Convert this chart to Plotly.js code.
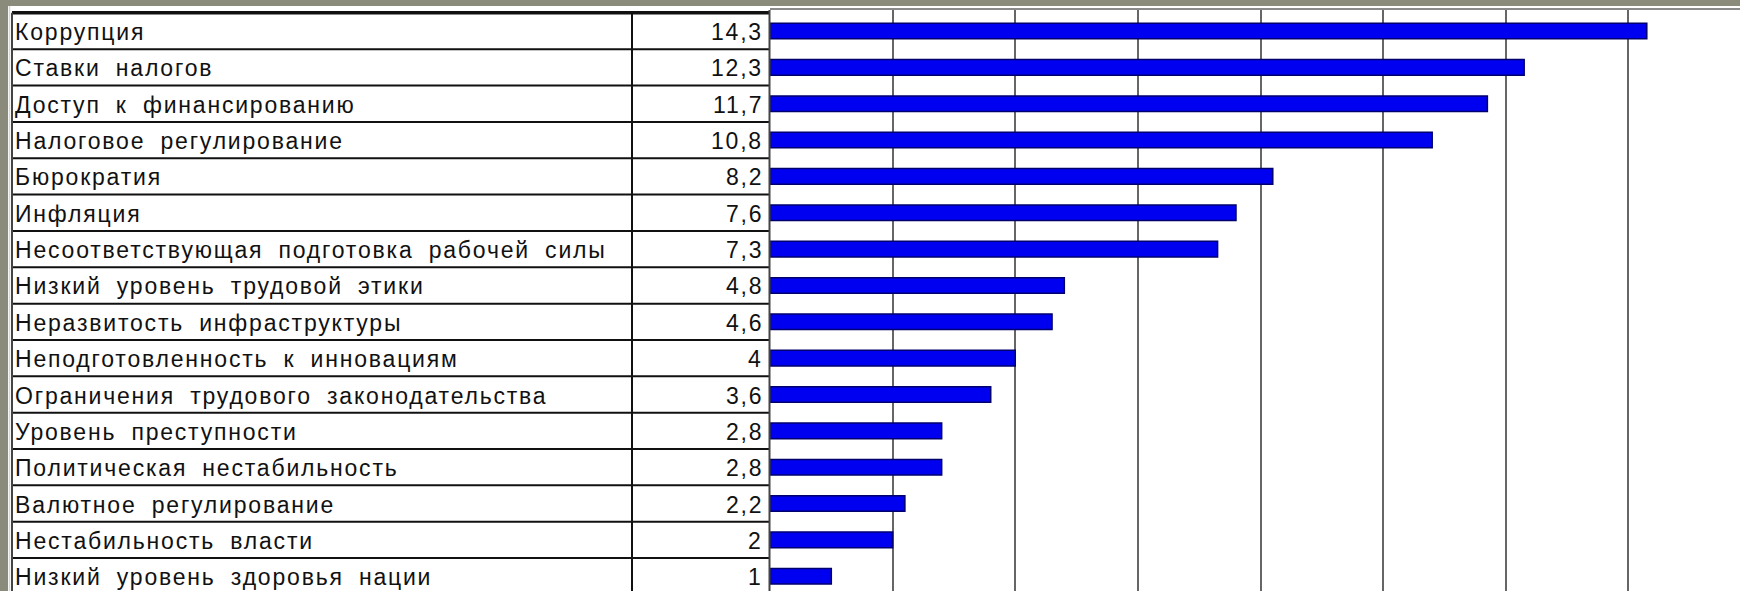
<!DOCTYPE html>
<html>
<head>
<meta charset="utf-8">
<script src="https://cdn.plot.ly/plotly-3.0.1.min.js"></script>
<style>
html,body{margin:0;padding:0;background:#ffffff;overflow:hidden;}
#chart{width:1740px;height:591px;}
</style>
</head>
<body>
<div id="chart"></div>
<script>
// ---- data ----
const categories = [
  "Коррупция",
  "Ставки налогов",
  "Доступ к финансированию",
  "Налоговое регулирование",
  "Бюрократия",
  "Инфляция",
  "Несоответствующая подготовка рабочей силы",
  "Низкий уровень трудовой этики",
  "Неразвитость инфраструктуры",
  "Неподготовленность к инновациям",
  "Ограничения трудового законодательства",
  "Уровень преступности",
  "Политическая нестабильность",
  "Валютное регулирование",
  "Нестабильность власти",
  "Низкий уровень здоровья нации"
];
const values = [14.3, 12.3, 11.7, 10.8, 8.2, 7.6, 7.3, 4.8, 4.6, 4, 3.6, 2.8, 2.8, 2.2, 2, 1];

// ---- layout helpers ----
const W = 1740, H = 591;
const px = x => x / W;             // pixel -> paper x
const py = y => 1 - y / H;         // pixel -> paper y
const rowIdx = categories.map((_, i) => i);
const fmt = v => String(v).replace('.', ',');
const band = '#8b8b7b';
const txtFont = {family: '"Liberation Sans", Arial, sans-serif', size: 23, color: '#111111'};
const ls = s => '<span style="letter-spacing:1.8px;word-spacing:7px">' + s + '</span>';

const trace = {
  type: 'bar',
  orientation: 'h',
  x: values,
  y: rowIdx,
  width: 0.43,
  marker: {color: '#0000f0', line: {color: '#00006e', width: 1.5}},
  hoverinfo: 'skip'
};

const shapes = [];
const nRows = categories.length;
// table horizontal lines (row boundaries)
for (let i = -1; i < nRows - 1; i++) {
  shapes.push({type: 'line', xref: 'paper', yref: 'y', x0: px(12), x1: px(769), y0: i + 0.5, y1: i + 0.5,
    line: {color: '#111111', width: i === -1 ? 3.5 : 2}});
}
// table vertical lines
shapes.push({type: 'line', xref: 'paper', yref: 'y', x0: px(632), x1: px(632), y0: -0.5, y1: nRows + 1,
  line: {color: '#111111', width: 2}});
shapes.push({type: 'line', xref: 'paper', yref: 'y', x0: px(12), x1: px(12), y0: -0.5, y1: nRows + 1,
  line: {color: '#444444', width: 2}});
shapes.push({type: 'line', xref: 'paper', yref: 'paper', x0: px(769.5), x1: px(769.5), y0: 0, y1: py(10),
  line: {color: '#444444', width: 2}});
shapes.push({type: 'line', xref: 'paper', yref: 'paper', x0: px(9.5), x1: px(9.5), y0: 0, y1: py(6),
  line: {color: '#d8d8d0', width: 1.5}});
// blank right margin of the plot area
shapes.push({type: 'rect', xref: 'paper', yref: 'paper', x0: px(1680), x1: 1, y0: 0, y1: py(11),
  fillcolor: '#ffffff', line: {width: 0}, layer: 'above'});
// decorative frame (gray band top and left)
shapes.push({type: 'rect', xref: 'paper', yref: 'paper', x0: 0, x1: 1, y0: py(6), y1: 1,
  fillcolor: band, line: {width: 0}, layer: 'above'});
shapes.push({type: 'rect', xref: 'paper', yref: 'paper', x0: 0, x1: px(8), y0: 0, y1: 1,
  fillcolor: band, line: {width: 0}, layer: 'above'});

const annotations = [];
categories.forEach((c, i) => {
  annotations.push({xref: 'paper', yref: 'y', x: px(13), y: i, yshift: -1, text: ls(c), showarrow: false,
    xanchor: 'left', yanchor: 'middle', font: txtFont});
  annotations.push({xref: 'paper', yref: 'y', x: px(765), y: i, yshift: -1, text: ls(fmt(values[i])), showarrow: false,
    xanchor: 'right', yanchor: 'middle', font: txtFont});
});

const layout = {
  width: W, height: H,
  margin: {l: 0, r: 0, t: 0, b: 0, pad: 0},
  paper_bgcolor: '#ffffff',
  plot_bgcolor: '#ffffff',
  showlegend: false,
  bargap: 0,
  xaxis: {
    domain: [px(770), 1],
    range: [0, 15.82],
    side: 'top',
    dtick: 2, tick0: 0,
    showgrid: true, gridcolor: '#666666', gridwidth: 2,
    zeroline: false,
    showline: true, linecolor: '#8a8a8a', linewidth: 2, mirror: false,
    ticks: '', showticklabels: false, fixedrange: true
  },
  yaxis: {
    domain: [0, py(10)],
    range: [15.406, -0.578],
    showgrid: false, zeroline: false,
    showline: false,
    ticks: '', showticklabels: false, fixedrange: true
  },
  shapes: shapes,
  annotations: annotations
};

Plotly.newPlot('chart', [trace], layout, {displayModeBar: false, staticPlot: true});
</script>
</body>
</html>
